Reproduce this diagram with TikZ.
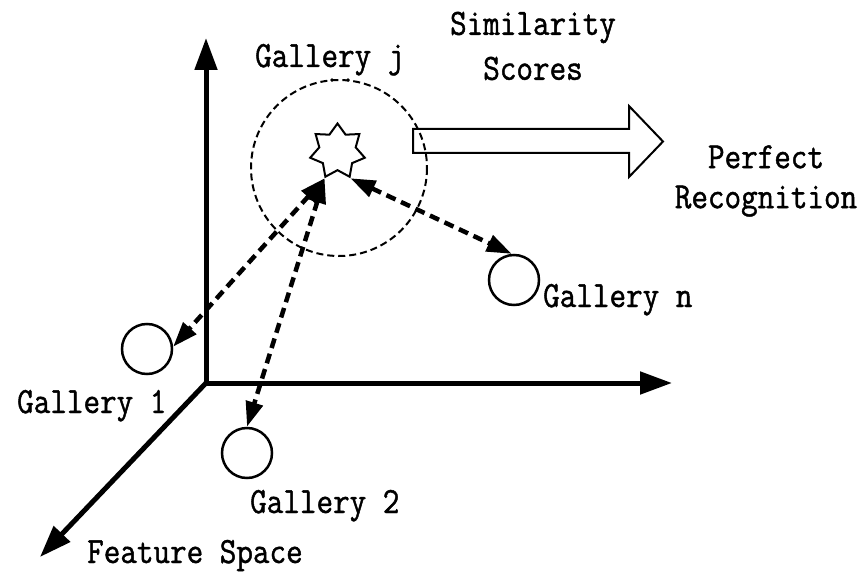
\documentclass[tikz,border=0pt]{standalone}
\usepackage{fontspec}
\newfontfamily\lblfont[FakeStretch=0.87,FakeBold=1.2]{Latin Modern Mono}
\usetikzlibrary{arrows.meta,shapes.geometric}
\begin{document}
\begin{tikzpicture}[x=1pt,y=-1pt,
  axis/.style={line width=5pt,-{Triangle[length=32pt,width=22pt]}},
  gal/.style={circle,draw,line width=2.5pt,minimum size=50pt,inner sep=0pt},
  link/.style={line width=4.5pt,dash pattern=on 10pt off 6pt,{Triangle[length=25pt,width=17pt]}-{Triangle[length=25pt,width=17pt]}},
  lbl/.style={font=\fontsize{37}{40}\selectfont\lblfont,inner sep=0pt},
]
\useasboundingbox (0,0) rectangle (862,572);
% axes
\coordinate (o) at (206,383);
\coordinate (ytip) at (206,38);
\coordinate (xtip) at (672,383);
\coordinate (ztip) at (40,557);
\draw[axis] (o) -- (ytip);
\draw[axis] (o) -- (xtip);
\draw[axis] (o) -- (ztip);
% dashed neighbourhood circle
\draw[line width=2pt,dash pattern=on 7pt off 4pt] (339,168) circle[radius=88];
\fill (332,80) circle[radius=1.8];
\fill (348,80) circle[radius=1.8];
% probe star
\node[star,star points=7,star point ratio=1.5,minimum size=56pt,inner sep=0pt,draw,line width=2pt] (sj) at (337.5,151.5) {};
% gallery items
\node[gal] (g1) at (147,349) {};
\node[gal] (g2) at (247,453) {};
\node[gal] (gn) at (514,280) {};
% similarity links
\draw[link] (sj.outer point 4) -- (g1.5);
\draw[link] (sj.outer point 4) -- (g2.north);
\draw[link] (sj.outer point 5) -- (gn.95);
% hollow arrow
\draw[line width=2pt] (413,129) -- (629,129) -- (629,106) -- (663,141.5) -- (629,177) -- (629,153) -- (413,153) -- cycle;
% labels
\node[lbl,anchor=base west] (lj) at (255,67) {Gallery j};
\node[lbl,align=center,font=\fontsize{37}{45}\selectfont\lblfont] (ls) at (533,46) {Similarity\\Scores};
\node[lbl,align=center] (lp) at (766,181) {Perfect\\Recognition};
\node[lbl,anchor=base west] (ln) at (543,307) {Gallery n};
\node[lbl,anchor=base west] (l1) at (17,413) {Gallery 1};
\node[lbl,anchor=base west] (l2) at (250,513) {Gallery 2};
\node[lbl,anchor=base west] (lf) at (87,563) {Feature Space};
\end{tikzpicture}
\end{document}
